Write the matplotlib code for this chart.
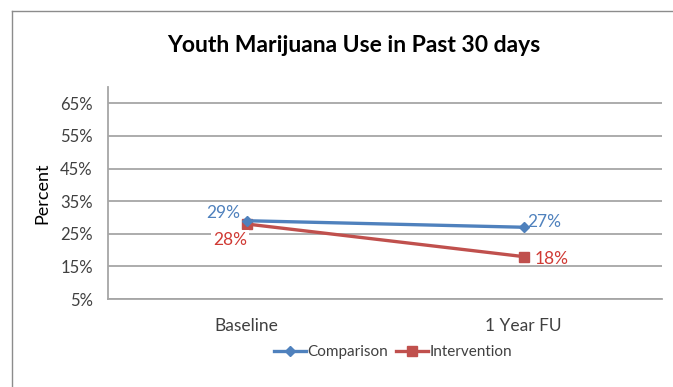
import matplotlib
matplotlib.use("Agg")
import matplotlib.pyplot as plt
from matplotlib.lines import Line2D
from matplotlib.ticker import FuncFormatter

plt.rcParams['font.family'] = ['Lato', 'DejaVu Sans']

categories = ["Baseline", "1 Year FU"]
comparison = [0.29, 0.27]
intervention = [0.28, 0.18]
yticks = [0.05, 0.15, 0.25, 0.35, 0.45, 0.55, 0.65]

blue = "#4F81BD"
red = "#C0504D"
grid_c = "#A6A6A6"
text_c = "#404040"

W, H = 673, 387
fig = plt.figure(figsize=(W / 100, H / 100), dpi=100)
# outer chart border (left and top edges visible in the crop)
fig.add_artist(Line2D([12 / W, 12 / W], [0, 1 - 11 / H], transform=fig.transFigure,
                      color="#8C8C8C", linewidth=1.0))
fig.add_artist(Line2D([12 / W, 1], [1 - 11 / H, 1 - 11 / H], transform=fig.transFigure,
                      color="#8C8C8C", linewidth=1.0))

ax = fig.add_axes([108 / W, 1 - 299 / H, (662 - 108) / W, (299 - 87) / H])
x = list(range(len(categories)))
ax.plot(x, comparison, color=blue, linewidth=2.4, marker="D", markersize=5.5,
        label="Comparison", zorder=4)
ax.plot(x, intervention, color=red, linewidth=2.4, marker="s", markersize=7,
        label="Intervention", zorder=3)

ax.set_xlim(-0.5, 1.5)
ax.set_ylim(0.05, 0.70)
ax.set_yticks(yticks)
ax.yaxis.set_major_formatter(FuncFormatter(lambda v, p: f"{v*100:.0f}%"))
ax.set_xticks(x)
ax.set_xticklabels(categories)
ax.tick_params(axis="y", length=0, labelsize=12, colors=text_c, pad=11)
ax.tick_params(axis="x", length=0, labelsize=12.5, colors=text_c, pad=14)
ax.grid(axis="y", color=grid_c, linewidth=1.3)
ax.set_axisbelow(True)
for s in ["top", "right"]:
    ax.spines[s].set_visible(False)
for s in ["left", "bottom"]:
    ax.spines[s].set_color(grid_c)
    ax.spines[s].set_linewidth(1.3)

ax.set_ylabel("Percent", fontsize=13, color="#000000", labelpad=7)

lab_red = "#D03A34"
bb = dict(boxstyle="square,pad=0.1", facecolor="white", edgecolor="none")
ax.annotate(f"{comparison[0]*100:.0f}%", (x[0], comparison[0]), xytext=(-16.5, 5.8),
            textcoords="offset points", color=blue, fontsize=12.5, ha="center", va="center")
ax.annotate(f"{intervention[0]*100:.0f}%", (x[0], intervention[0]), xytext=(-12, -11.5),
            textcoords="offset points", color=lab_red, fontsize=12.5, ha="center", va="center", bbox=bb)
ax.annotate(f"{comparison[1]*100:.0f}%", (x[1], comparison[1]), xytext=(15, 3.6),
            textcoords="offset points", color=blue, fontsize=12.5, ha="center", va="center")
ax.annotate(f"{intervention[1]*100:.0f}%", (x[1], intervention[1]), xytext=(20, -1.4),
            textcoords="offset points", color=lab_red, fontsize=12.5, ha="center", va="center")

fig.text(354 / W, 1 - 45 / H, "Youth Marijuana Use in Past 30 days", ha="center", va="center",
         fontsize=16.5, fontweight="bold", color="black")

fig.legend(loc="center", bbox_to_anchor=(393 / W, 1 - 352 / H), ncol=2, frameon=False,
           fontsize=11, handlelength=2.1, columnspacing=0.5, handletextpad=0.1,
           labelcolor=text_c)

fig.savefig("out.png", dpi=100)
